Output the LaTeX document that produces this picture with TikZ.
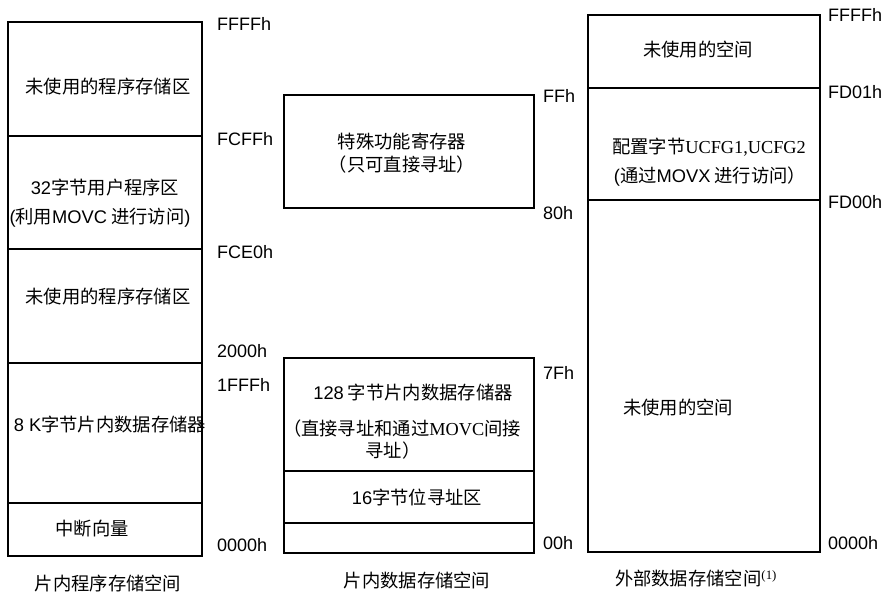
\documentclass[tikz,border=0pt]{standalone}
\usepackage{fontspec}
\setmainfont{Liberation Sans}
\newfontfamily\cjk{Noto Sans CJK SC}
\newfontfamily\lat{Liberation Sans}
\newfontfamily\rom{Liberation Serif}
\begin{document}
\begin{tikzpicture}[x=1pt, y=-1pt,
    region/.style={draw, line width=2.5pt, inner sep=0pt},
    lcol/.style={region, minimum width=194pt},
    mcol/.style={region, minimum width=250pt},
    rcol/.style={region, minimum width=232pt},
    txt/.style={inner sep=0pt, font=\fontsize{18.3}{22}\selectfont\cjk},
    addr/.style={anchor=west, inner sep=0pt, font=\fontsize{18}{22}\selectfont\lat}]
            \useasboundingbox (0,0) rectangle (885,596);

            \node[lcol, minimum height=114pt] (p1) at (105, 79) {};
            \node[lcol, minimum height=113pt] (p2) at (105, 192.5) {};
            \node[lcol, minimum height=114pt] (p3) at (105, 306) {};
            \node[lcol, minimum height=140pt] (p4) at (105, 433) {};
            \node[lcol, minimum height=53pt] (p5) at (105, 529.5) {};

            \node[txt] (p1t) at (108, 87) {未使用的程序存储区};
            \node[txt] (p2t) at (105, 188) {{\lat 32}字节用户程序区};
            \node[txt] (p2s) at (100, 218) {{\lat(}利用{\lat MOVC} 进行访问{\lat)}};
            \node[txt] (p3t) at (108, 297) {未使用的程序存储区};
            \node[txt] (p4t) at (110, 425) {{\lat 8 K}字节片内数据存储器};
            \node[txt] (p5t) at (92, 529) {中断向量};

            \node[addr] (a1) at (217, 24) {FFFFh};
            \node[addr] (a2) at (217, 139) {FCFFh};
            \node[addr] (a3) at (217, 252) {FCE0h};
            \node[addr] (a4) at (217, 351) {2000h};
            \node[addr] (a5) at (217, 385) {1FFFh};
            \node[addr] (a6) at (217, 545) {0000h};

            \node[mcol, minimum height=113pt] (d1) at (409, 151.5) {};
            \node[mcol, minimum height=113pt] (d2) at (409, 414.5) {};
            \node[mcol, minimum height=52pt] (d3) at (409, 497) {};
            \node[mcol, minimum height=30pt] (d4) at (409, 538) {};

            \node[txt] (d1t) at (402, 142) {特殊功能寄存器};
            \node[txt] (d1s) at (402, 165) {（只可直接寻址）};
            \node[txt] (d2t) at (413, 393) {{\lat 128} 字节片内数据存储器};
            \node[txt] (d2s) at (402, 429) {（直接寻址和通过{\rom MOVC}间接};
            \node[txt] (d2u) at (393, 451) {寻址）};
            \node[txt] (d3t) at (417, 497) {{\lat 16}字节位寻址区};

            \node[addr] (b1) at (543, 96) {FFh};
            \node[addr] (b2) at (543, 213) {80h};
            \node[addr] (b3) at (543, 373) {7Fh};
            \node[addr] (b4) at (543, 543) {00h};

            \node[rcol, minimum height=73pt] (e1) at (704, 51.5) {};
            \node[rcol, minimum height=112pt] (e2) at (704, 144) {};
            \node[rcol, minimum height=352pt] (e3) at (704, 376) {};

            \node[txt] (e1t) at (698, 50) {未使用的空间};
            \node[txt] (e2t) at (709, 147) {配置字节{\rom UCFG1,UCFG2}};
            \node[txt] (e2s) at (710, 177) {{\lat(}通过{\lat MOVX} 进行访问）};
            \node[txt] (e3t) at (678, 408) {未使用的空间};

            \node[addr] (c1) at (828, 15) {FFFFh};
            \node[addr] (c2) at (828, 92) {FD01h};
            \node[addr] (c3) at (828, 202) {FD00h};
            \node[addr] (c4) at (828, 543) {0000h};

            \node[txt] (l1) at (108, 584) {片内程序存储空间};
            \node[txt] (l2) at (417, 581) {片内数据存储空间};
            \node[txt] (l3) at (696, 579) {外部数据存储空间\textsuperscript{\rom(1)}};
        \end{tikzpicture}
\end{document}
